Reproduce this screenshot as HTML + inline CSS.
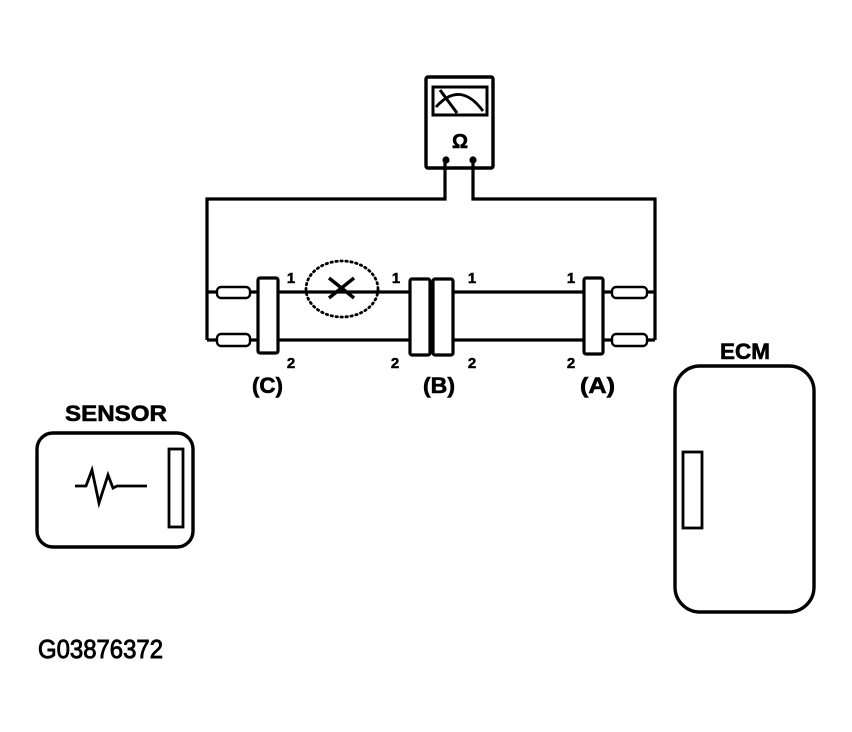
<!DOCTYPE html>
<html>
<head>
<meta charset="utf-8">
<style>
  html, body { margin: 0; padding: 0; background: #fff; }
  svg { display: block; }
  text { font-family: "Liberation Sans", Arial, sans-serif; fill: #000; }
</style>
</head>
<body>
<svg width="852" height="732" viewBox="0 0 852 732" xmlns="http://www.w3.org/2000/svg">
  <rect x="0" y="0" width="852" height="732" fill="#fff"/>

  <!-- Ohmmeter -->
  <rect x="426" y="77" width="67" height="91" rx="2" fill="#fff" stroke="#000" stroke-width="3.4"/>
  <rect x="433" y="87" width="54" height="28" fill="#fff" stroke="#000" stroke-width="3"/>
  <path d="M436,107 Q460,80 483,111" fill="none" stroke="#000" stroke-width="2.8"/>
  <path d="M440,90 L457,113" fill="none" stroke="#000" stroke-width="3"/>
  <text x="460" y="148" font-size="20" font-weight="bold" text-anchor="middle" stroke="#000" stroke-width="0.6">Ω</text>
  <circle cx="446" cy="160" r="3.6" fill="#000"/>
  <circle cx="473" cy="160" r="3.6" fill="#000"/>

  <!-- Leads -->
  <path d="M445,160 L445,199 L207,199 L207,340" fill="none" stroke="#000" stroke-width="3.2"/>
  <path d="M473,160 L473,199 L655,199 L655,340" fill="none" stroke="#000" stroke-width="3.2"/>

  <!-- Left side wires to resistors -->
  <path d="M207,292 L217,292 M250,292 L258,292 M207,340 L217,340 M250,340 L258,340" stroke="#000" stroke-width="3.2"/>
  <rect x="217" y="287" width="33" height="11" rx="4" fill="#fff" stroke="#000" stroke-width="2.4"/>
  <rect x="217" y="334" width="33" height="12" rx="4" fill="#fff" stroke="#000" stroke-width="2.4"/>

  <!-- Right side wires to resistors -->
  <path d="M603,292 L612,292 M647,292 L655,292 M603,340 L612,340 M647,340 L655,340" stroke="#000" stroke-width="3.2"/>
  <rect x="612" y="287" width="35" height="11" rx="4" fill="#fff" stroke="#000" stroke-width="2.4"/>
  <rect x="612" y="334" width="35" height="12" rx="4" fill="#fff" stroke="#000" stroke-width="2.4"/>

  <!-- Harness wires -->
  <path d="M278,292 L410,292 M278,340 L410,340 M453,292 L584,292 M453,340 L584,340" stroke="#000" stroke-width="3.2"/>

  <!-- Open-circuit marker -->
  <ellipse cx="342" cy="289" rx="36" ry="28" fill="none" stroke="#000" stroke-width="2.8" stroke-dasharray="1.4 3.6" stroke-linecap="round"/>
  <path d="M329,278 L354,298 M329,298 L354,278" stroke="#000" stroke-width="3.4"/>

  <!-- Connectors -->
  <rect x="258" y="278" width="20" height="75" rx="2" fill="#fff" stroke="#000" stroke-width="3.2"/>
  <rect x="410" y="279" width="20" height="76" rx="2" fill="#fff" stroke="#000" stroke-width="3.2"/>
  <rect x="433" y="279" width="20" height="76" rx="2" fill="#fff" stroke="#000" stroke-width="3.2"/>
  <rect x="584" y="278" width="19" height="76" rx="2" fill="#fff" stroke="#000" stroke-width="3.2"/>

  <!-- Pin labels -->
  <g font-size="15" font-weight="bold" text-anchor="middle" stroke="#000" stroke-width="0.5">
    <text x="291" y="283">1</text>
    <text x="396" y="283">1</text>
    <text x="472" y="283">1</text>
    <text x="571" y="283">1</text>
    <text x="291" y="368">2</text>
    <text x="395" y="368">2</text>
    <text x="472" y="368">2</text>
    <text x="571" y="368">2</text>
  </g>

  <!-- Connector labels -->
  <g font-size="22" font-weight="bold" stroke="#000" stroke-width="0.6">
    <text x="252" y="393" textLength="31" lengthAdjust="spacingAndGlyphs">(C)</text>
    <text x="423" y="393" textLength="32" lengthAdjust="spacingAndGlyphs">(B)</text>
    <text x="580" y="393" textLength="35" lengthAdjust="spacingAndGlyphs">(A)</text>
  </g>

  <!-- Sensor -->
  <text x="65" y="421" font-size="22" font-weight="bold" textLength="102" lengthAdjust="spacingAndGlyphs" stroke="#000" stroke-width="0.6">SENSOR</text>
  <rect x="37" y="433" width="156" height="114" rx="16" fill="#fff" stroke="#000" stroke-width="3.4"/>
  <rect x="169" y="449" width="14" height="78" fill="#fff" stroke="#000" stroke-width="2.8"/>
  <path d="M75,486 L86,486 L92,470 L99,503 L108,475 L113,488 L117,486 L147,486" fill="none" stroke="#000" stroke-width="2.8" stroke-linejoin="miter"/>

  <!-- ECM -->
  <text x="720" y="359" font-size="22" font-weight="bold" textLength="50" lengthAdjust="spacingAndGlyphs" stroke="#000" stroke-width="0.6">ECM</text>
  <rect x="675" y="366" width="139" height="246" rx="25" fill="#fff" stroke="#000" stroke-width="3.4"/>
  <rect x="683" y="452" width="19" height="76" fill="#fff" stroke="#000" stroke-width="2.8"/>

  <!-- Figure id -->
  <text x="38" y="658" font-size="26" textLength="125" lengthAdjust="spacingAndGlyphs" stroke="#000" stroke-width="0.9">G03876372</text>
</svg>
</body>
</html>
